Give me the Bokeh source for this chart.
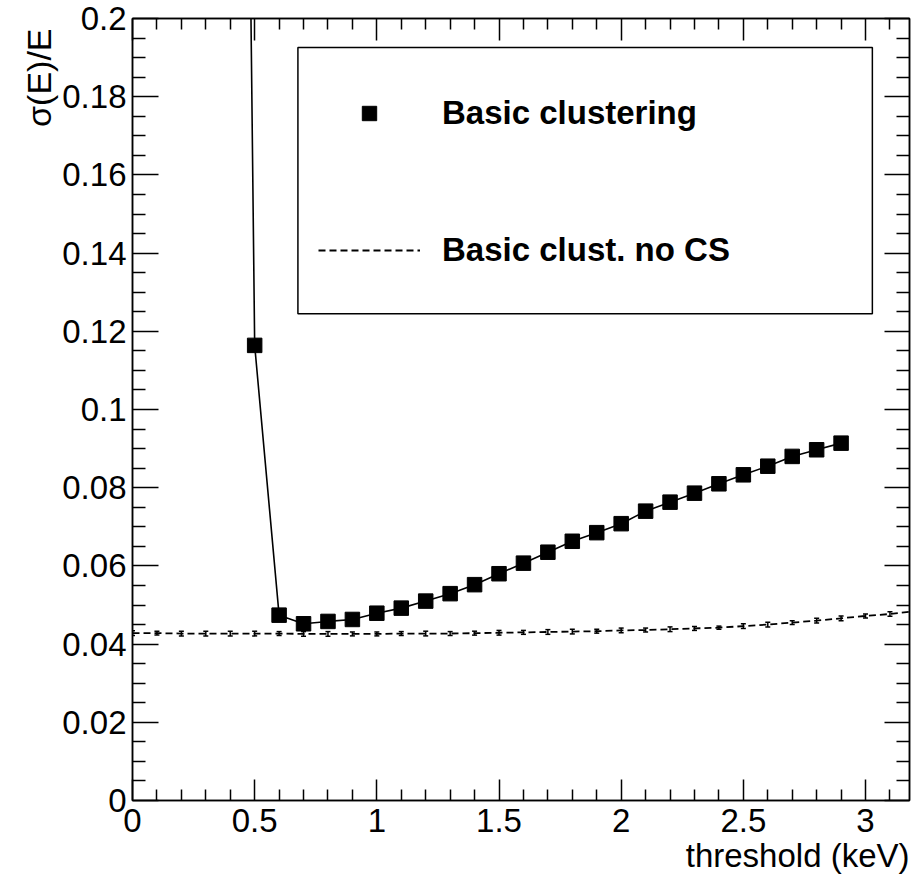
from bokeh.plotting import figure
from bokeh.models import (Range1d, LinearAxis, FixedTicker, CustomJSTickFormatter, Legend,
                          LegendItem, BoxAnnotation, Title, Whisker, ColumnDataSource, TeeHead)
from bokeh.embed import file_html
from bokeh.resources import INLINE

# ---------------- data ----------------
basic_x = [0.4, 0.5, 0.6, 0.7, 0.8, 0.9, 1.0, 1.1, 1.2, 1.3, 1.4, 1.5, 1.6, 1.7, 1.8,
           1.9, 2.0, 2.1, 2.2, 2.3, 2.4, 2.5, 2.6, 2.7, 2.8, 2.9]
basic_y = [0.67, 0.1164, 0.0474, 0.0452, 0.0458, 0.0463, 0.0479, 0.0492, 0.0510, 0.0529,
           0.0552, 0.0580, 0.0607, 0.0635, 0.0663, 0.0685, 0.0708, 0.0740, 0.0763, 0.0786,
           0.0810, 0.0833, 0.0855, 0.0880, 0.0897, 0.0914]

nocs_x = [0.0, 0.1, 0.2, 0.3, 0.4, 0.5, 0.6, 0.7, 0.8, 0.9, 1.0, 1.1, 1.2, 1.3, 1.4, 1.5,
          1.6, 1.7, 1.8, 1.9, 2.0, 2.1, 2.2, 2.3, 2.4, 2.5, 2.6, 2.7, 2.8, 2.9, 3.0, 3.1, 3.2]
nocs_y = [0.0428, 0.0428, 0.0427, 0.0427, 0.0427, 0.0427, 0.0427, 0.0426, 0.0426, 0.0426,
          0.0426, 0.0427, 0.0427, 0.0427, 0.0428, 0.0429, 0.0430, 0.0431, 0.0432, 0.0433,
          0.0435, 0.0436, 0.0438, 0.0440, 0.0442, 0.0446, 0.0450, 0.0455, 0.0460, 0.0466,
          0.0472, 0.0477, 0.0484]
nocs_err = [0.0006, 0.0005, 0.0006, 0.0006, 0.0006, 0.0006, 0.0005, 0.0006, 0.0006, 0.0005,
            0.0005, 0.0005, 0.0006, 0.0005, 0.0005, 0.0006, 0.0005, 0.0006, 0.0006, 0.0005,
            0.0006, 0.0005, 0.0006, 0.0005, 0.0004, 0.0006, 0.0006, 0.0005, 0.0006, 0.0006,
            0.0005, 0.0006, 0.0005]

x_major = [0, 0.5, 1.0, 1.5, 2.0, 2.5, 3.0]
x_minor = [0.1, 0.2, 0.3, 0.4, 0.6, 0.7, 0.8, 0.9, 1.1, 1.2, 1.3, 1.4, 1.6, 1.7, 1.8, 1.9,
           2.1, 2.2, 2.3, 2.4, 2.6, 2.7, 2.8, 2.9, 3.1]
y_major = [0, 0.02, 0.04, 0.06, 0.08, 0.1, 0.12, 0.14, 0.16, 0.18, 0.2]
y_minor = [0.005, 0.01, 0.015, 0.025, 0.03, 0.035, 0.045, 0.05, 0.055, 0.065, 0.07, 0.075,
           0.085, 0.09, 0.095, 0.105, 0.11, 0.115, 0.125, 0.13, 0.135, 0.145, 0.15, 0.155,
           0.165, 0.17, 0.175, 0.185, 0.19, 0.195]

legend_labels = ["Basic clustering", "Basic clust. no CS"]
x_title = "threshold (keV)"
y_title = "σ(E)/E"

FONT = "Liberation Sans"

# ---------------- figure ----------------
p = figure(width=917, height=875, output_backend="svg", toolbar_location=None,
           x_range=Range1d(0, 3.18), y_range=Range1d(0, 0.2),
           min_border_left=132, min_border_right=8, min_border_top=18, min_border_bottom=75,
           x_axis_type=None, y_axis_type=None)
p.xgrid.visible = False
p.ygrid.visible = False
p.outline_line_color = "black"
p.outline_line_width = 1.5
p.background_fill_color = "white"
p.border_fill_color = "white"

fmt = CustomJSTickFormatter(code="return String(+tick.toFixed(4));")
blank = CustomJSTickFormatter(code="return '';")


def style_axis(ax, major_len, minor_len, labels=True):
    ax.axis_line_color = "black"
    ax.axis_line_width = 1.5
    ax.major_tick_line_color = "black"
    ax.major_tick_line_width = 1.5
    ax.minor_tick_line_color = "black"
    ax.minor_tick_line_width = 1.5
    ax.major_tick_in = major_len
    ax.major_tick_out = 0
    ax.minor_tick_in = minor_len
    ax.minor_tick_out = 0
    if labels:
        ax.major_label_text_font = FONT
        ax.major_label_text_font_size = "33px"
        ax.major_label_text_color = "black"
    else:
        ax.major_label_standoff = 0


bottom = LinearAxis(ticker=FixedTicker(ticks=x_major, minor_ticks=x_minor), formatter=fmt)
style_axis(bottom, 21, 11)
bottom.major_label_standoff = 8
p.add_layout(bottom, "below")

left = LinearAxis(ticker=FixedTicker(ticks=y_major, minor_ticks=y_minor), formatter=fmt)
style_axis(left, 26, 13)
left.major_label_standoff = 6
p.add_layout(left, "left")

top = LinearAxis(ticker=FixedTicker(ticks=x_major, minor_ticks=x_minor), formatter=blank)
style_axis(top, 22, 11, labels=False)
p.add_layout(top, "above")

right = LinearAxis(ticker=FixedTicker(ticks=y_major, minor_ticks=y_minor), formatter=blank)
style_axis(right, 25, 13, labels=False)
p.add_layout(right, "right")

# axis titles (ROOT style: aligned to the axis end)
p.add_layout(Title(text=x_title, align="right", text_font=FONT, text_font_size="33px",
                   text_font_style="normal", text_color="black", standoff=0), "below")
p.add_layout(Title(text=y_title, align="right", text_font=FONT, text_font_size="34px",
                   text_font_style="normal", text_color="black", standoff=4, offset=10), "left")

# ---------------- data renderers ----------------
src_nocs = ColumnDataSource(dict(
    x=nocs_x, y=nocs_y,
    lo=[v - e for v, e in zip(nocs_y, nocs_err)],
    hi=[v + e for v, e in zip(nocs_y, nocs_err)]))
r_nocs = p.line("x", "y", source=src_nocs, line_color="black", line_width=1.8, line_dash="7 4")
wh = Whisker(source=src_nocs, base="x", lower="lo", upper="hi", dimension="height",
             line_color="black", line_width=1.5,
             upper_head=TeeHead(size=5, line_color="black", line_width=1.5),
             lower_head=TeeHead(size=5, line_color="black", line_width=1.5))
p.add_layout(wh)

src_basic = ColumnDataSource(dict(x=basic_x, y=basic_y))
p.line("x", "y", source=src_basic, line_color="black", line_width=1.6)
r_basic = p.scatter("x", "y", source=src_basic, marker="square", size=14.5,
                    fill_color="black", line_color="black")

# ---------------- legend ----------------
box = BoxAnnotation(left=0.677, right=3.028, top=0.1926, bottom=0.1245,
                    fill_alpha=0, line_color="black", line_alpha=1.0, line_width=1.5)
p.add_layout(box)

legend = Legend(items=[LegendItem(label=legend_labels[0], renderers=[r_basic]),
                       LegendItem(label=legend_labels[1], renderers=[r_nocs])],
                location=(186, 531), padding=0, margin=0, spacing=99,
                glyph_width=102, glyph_height=36, label_height=36, label_standoff=22,
                label_text_font=FONT, label_text_font_style="bold",
                label_text_font_size="33px", label_text_color="black",
                border_line_color=None, background_fill_alpha=0)
p.add_layout(legend)

open("out.html", "w").write(file_html(p, INLINE))
